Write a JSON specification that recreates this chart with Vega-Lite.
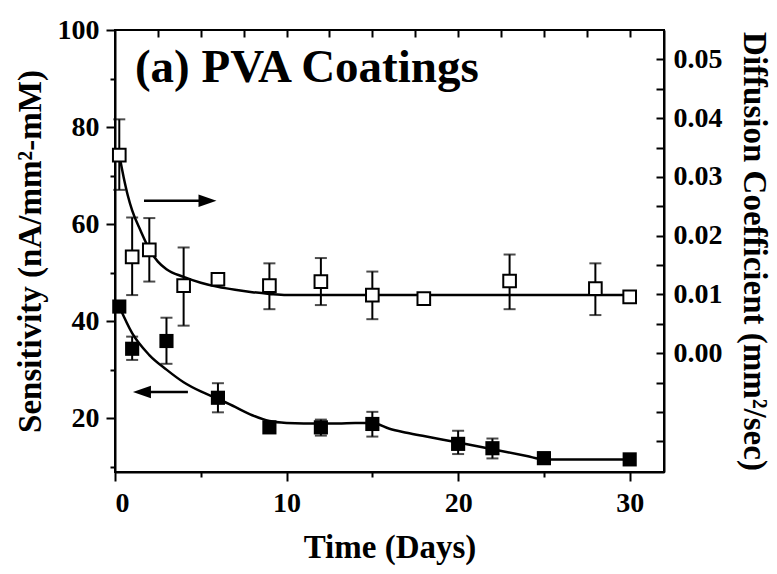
{
  "$schema": "https://vega.github.io/schema/vega-lite/v6.json",
  "width": 549,
  "height": 442,
  "autosize": {"type": "none"},
  "padding": {"left": 115, "top": 30, "right": 113, "bottom": 102},
  "background": "white",
  "config": {
    "view": {"stroke": "black", "strokeWidth": 2},
    "font": "Liberation Serif",
    "axis": {
      "labelFont": "Liberation Serif", "labelFontWeight": "bold", "labelFontSize": 28, "labelColor": "black",
      "titleFont": "Liberation Serif", "titleFontWeight": "bold", "titleFontSize": 33, "titleColor": "black",
      "domainColor": "black", "domainWidth": 2, "tickColor": "black", "tickWidth": 2, "grid": false
    }
  },
  "datasets": {
    "sens": [
      {"day": 0.25, "v": 43.0, "lo": 42.2, "hi": 43.8},
      {"day": 1, "v": 34.3, "lo": 32.0, "hi": 36.8},
      {"day": 3, "v": 35.9, "lo": 31.2, "hi": 40.7},
      {"day": 6, "v": 24.2, "lo": 21.2, "hi": 27.2},
      {"day": 9, "v": 18.1, "lo": 17.2, "hi": 19.0},
      {"day": 12, "v": 18.1, "lo": 16.4, "hi": 19.7},
      {"day": 15, "v": 18.8, "lo": 16.2, "hi": 21.3},
      {"day": 20, "v": 14.7, "lo": 12.6, "hi": 17.4},
      {"day": 22, "v": 13.8, "lo": 11.7, "hi": 15.8},
      {"day": 25, "v": 11.75, "lo": 10.6, "hi": 12.9},
      {"day": 30, "v": 11.5, "lo": 10.8, "hi": 12.2}
    ],
    "sensfit": [
      {"day": 0.25, "v": 43.0}, {"day": 1, "v": 37.5}, {"day": 2, "v": 33.0}, {"day": 3, "v": 30.0},
      {"day": 4, "v": 27.4}, {"day": 5, "v": 25.5}, {"day": 6, "v": 24.0}, {"day": 7, "v": 22.3},
      {"day": 8, "v": 20.6}, {"day": 9, "v": 19.4}, {"day": 10, "v": 19.0}, {"day": 11, "v": 18.9},
      {"day": 12, "v": 18.9}, {"day": 13, "v": 18.9}, {"day": 14, "v": 19.0}, {"day": 15, "v": 19.0},
      {"day": 16, "v": 17.8}, {"day": 17, "v": 17.0}, {"day": 18, "v": 16.3}, {"day": 20, "v": 15.0},
      {"day": 22, "v": 13.6}, {"day": 24, "v": 12.2}, {"day": 25, "v": 11.5}, {"day": 30, "v": 11.5}
    ],
    "diff": [
      {"day": 0.25, "v": 0.0337, "lo": 0.0278, "hi": 0.0398},
      {"day": 1, "v": 0.0164, "lo": 0.0099, "hi": 0.0231},
      {"day": 2, "v": 0.0176, "lo": 0.0122, "hi": 0.0230},
      {"day": 4, "v": 0.0115, "lo": 0.0047, "hi": 0.0180},
      {"day": 6, "v": 0.0126, "lo": 0.0118, "hi": 0.0134},
      {"day": 9, "v": 0.0115, "lo": 0.0075, "hi": 0.0153},
      {"day": 12, "v": 0.0122, "lo": 0.0082, "hi": 0.0162},
      {"day": 15, "v": 0.0099, "lo": 0.0058, "hi": 0.0139},
      {"day": 18, "v": 0.0093, "lo": 0.0088, "hi": 0.0098},
      {"day": 23, "v": 0.0123, "lo": 0.0075, "hi": 0.0168},
      {"day": 28, "v": 0.0110, "lo": 0.0065, "hi": 0.0153},
      {"day": 30, "v": 0.0096, "lo": 0.0094, "hi": 0.0098}
    ],
    "difffit": [
      {"day": 0.25, "v": 0.0337}, {"day": 0.5, "v": 0.0300}, {"day": 0.75, "v": 0.0268}, {"day": 1, "v": 0.0243},
      {"day": 1.5, "v": 0.0208}, {"day": 2, "v": 0.0177}, {"day": 2.5, "v": 0.0156}, {"day": 3, "v": 0.0143},
      {"day": 4, "v": 0.0130}, {"day": 5, "v": 0.0120}, {"day": 6, "v": 0.0113}, {"day": 7, "v": 0.0108},
      {"day": 8, "v": 0.0104}, {"day": 9, "v": 0.0101}, {"day": 10, "v": 0.0099}, {"day": 20, "v": 0.0099},
      {"day": 30, "v": 0.0099}
    ],
    "arrows": [
      {"day": 1.69, "day2": 5.4, "v": 64.8},
      {"day": 1.57, "day2": 4.25, "v": 25.4}
    ],
    "heads": [
      {"day": 5.39, "v": 64.8, "dir": "right"},
      {"day": 1.57, "v": 25.4, "dir": "left"}
    ],
    "label": [
      {"day": 1.16, "v": 89.3, "text": "(a) PVA Coatings"}
    ]
  },
  "layer": [
    {
      "encoding": {
        "x": {"field": "day", "type": "quantitative", "scale": {"domain": [0, 32], "nice": false, "zero": false},
          "axis": {"orient": "bottom", "title": "Time (Days)", "values": [0, 5, 10, 15, 20, 25, 30],
            "labelExpr": "datum.value % 10 == 0 ? datum.label : ''",
            "tickSize": {"condition": {"test": "datum.value % 10 == 0", "value": 9}, "value": 5},
            "labelPadding": 8, "titlePadding": 14}}
      },
      "layer": [
        {
          "data": {"name": "sens"},
          "mark": {"type": "rule", "color": "black", "strokeWidth": 2},
          "encoding": {
            "y": {"field": "lo", "type": "quantitative", "scale": {"domain": [8.9, 100], "nice": false, "zero": false},
              "axis": {"orient": "left", "title": "Sensitivity (nA/mm²-mM)", "values": [10, 20, 30, 40, 50, 60, 70, 80, 90, 100],
                "labelExpr": "datum.value % 20 == 0 ? datum.label : ''",
                "tickSize": {"condition": {"test": "datum.value % 20 == 0", "value": 9}, "value": 5},
                "labelPadding": 7, "titlePadding": 10}},
            "y2": {"field": "hi"}
          }
        },
        {
          "data": {"name": "sens"},
          "mark": {"type": "tick", "color": "black", "orient": "horizontal", "size": 12, "thickness": 2},
          "encoding": {"y": {"field": "lo", "type": "quantitative"}}
        },
        {
          "data": {"name": "sens"},
          "mark": {"type": "tick", "color": "black", "orient": "horizontal", "size": 12, "thickness": 2},
          "encoding": {"y": {"field": "hi", "type": "quantitative"}}
        },
        {
          "data": {"name": "sensfit"},
          "mark": {"type": "line", "color": "black", "strokeWidth": 2.5, "interpolate": "monotone"},
          "encoding": {"y": {"field": "v", "type": "quantitative"}}
        },
        {
          "data": {"name": "sens"},
          "mark": {"type": "point", "shape": "square", "filled": true, "color": "black", "size": 200, "opacity": 1},
          "encoding": {"y": {"field": "v", "type": "quantitative"}}
        },
        {
          "data": {"name": "arrows"},
          "mark": {"type": "rule", "color": "black", "strokeWidth": 2.5},
          "encoding": {"x2": {"field": "day2"}, "y": {"field": "v", "type": "quantitative"}}
        },
        {
          "data": {"name": "heads"},
          "mark": {"type": "point", "filled": true, "color": "black", "size": 324, "opacity": 1},
          "encoding": {
            "y": {"field": "v", "type": "quantitative"},
            "shape": {"field": "dir", "type": "nominal", "legend": null,
              "scale": {"domain": ["right", "left"], "range": ["M-1,-0.7L1,0L-1,0.7Z", "M1,-0.7L-1,0L1,0.7Z"]}}
          }
        },
        {
          "data": {"name": "label"},
          "mark": {"type": "text", "align": "left", "baseline": "alphabetic", "font": "Liberation Serif", "fontWeight": "bold", "fontSize": 47, "color": "black"},
          "encoding": {"y": {"field": "v", "type": "quantitative"}, "text": {"field": "text"}}
        }
      ]
    },
    {
      "encoding": {
        "x": {"field": "day", "type": "quantitative",
          "axis": {"orient": "top", "title": null, "values": [2.5, 5, 7.5, 10, 12.5, 15, 17.5, 20, 22.5, 25, 27.5, 30],
            "labels": false, "tickSize": -7, "domain": false}}
      },
      "layer": [
        {
          "data": {"name": "diff"},
          "mark": {"type": "rule", "color": "black", "strokeWidth": 2},
          "encoding": {
            "y": {"field": "lo", "type": "quantitative", "scale": {"domain": [-0.0202, 0.055], "nice": false, "zero": false},
              "axis": {"orient": "right", "title": "Diffusion Coefficient (mm²/sec)", "labels": true,
                "values": [-0.015, -0.01, -0.005, 0, 0.005, 0.01, 0.015, 0.02, 0.025, 0.03, 0.035, 0.04, 0.045, 0.05],
                "labelExpr": "datum.value >= 0 && substring(format(datum.value, '.3f'), 4, 5) == '0' ? format(datum.value, '.2f') : ''",
                "tickSize": -8, "labelPadding": 17, "titlePadding": 14}},
            "y2": {"field": "hi"}
          }
        },
        {
          "data": {"name": "diff"},
          "mark": {"type": "tick", "color": "black", "orient": "horizontal", "size": 12, "thickness": 2},
          "encoding": {"y": {"field": "lo", "type": "quantitative",
              "axis": {"orient": "right", "title": "Diffusion Coefficient (mm²/sec)", "labels": true,
                "values": [-0.015, -0.01, -0.005, 0, 0.005, 0.01, 0.015, 0.02, 0.025, 0.03, 0.035, 0.04, 0.045, 0.05],
                "labelExpr": "datum.value >= 0 && substring(format(datum.value, '.3f'), 4, 5) == '0' ? format(datum.value, '.2f') : ''",
                "tickSize": -8, "labelPadding": 17, "titlePadding": 14}}}
        },
        {
          "data": {"name": "diff"},
          "mark": {"type": "tick", "color": "black", "orient": "horizontal", "size": 12, "thickness": 2},
          "encoding": {"y": {"field": "hi", "type": "quantitative",
              "axis": {"orient": "right", "title": "Diffusion Coefficient (mm²/sec)", "labels": true,
                "values": [-0.015, -0.01, -0.005, 0, 0.005, 0.01, 0.015, 0.02, 0.025, 0.03, 0.035, 0.04, 0.045, 0.05],
                "labelExpr": "datum.value >= 0 && substring(format(datum.value, '.3f'), 4, 5) == '0' ? format(datum.value, '.2f') : ''",
                "tickSize": -8, "labelPadding": 17, "titlePadding": 14}}}
        },
        {
          "data": {"name": "difffit"},
          "mark": {"type": "line", "color": "black", "strokeWidth": 2.5, "interpolate": "monotone"},
          "encoding": {"y": {"field": "v", "type": "quantitative",
              "axis": {"orient": "right", "title": "Diffusion Coefficient (mm²/sec)", "labels": true,
                "values": [-0.015, -0.01, -0.005, 0, 0.005, 0.01, 0.015, 0.02, 0.025, 0.03, 0.035, 0.04, 0.045, 0.05],
                "labelExpr": "datum.value >= 0 && substring(format(datum.value, '.3f'), 4, 5) == '0' ? format(datum.value, '.2f') : ''",
                "tickSize": -8, "labelPadding": 17, "titlePadding": 14}}}
        },
        {
          "data": {"name": "diff"},
          "mark": {"type": "point", "shape": "square", "filled": true, "fill": "white", "stroke": "black", "strokeWidth": 2, "size": 160, "opacity": 1},
          "encoding": {"y": {"field": "v", "type": "quantitative",
              "axis": {"orient": "right", "title": "Diffusion Coefficient (mm²/sec)", "labels": true,
                "values": [-0.015, -0.01, -0.005, 0, 0.005, 0.01, 0.015, 0.02, 0.025, 0.03, 0.035, 0.04, 0.045, 0.05],
                "labelExpr": "datum.value >= 0 && substring(format(datum.value, '.3f'), 4, 5) == '0' ? format(datum.value, '.2f') : ''",
                "tickSize": -8, "labelPadding": 17, "titlePadding": 14}}}
        }
      ]
    }
  ],
  "resolve": {"scale": {"y": "independent"}, "axis": {"x": "independent", "y": "independent"}}
}
